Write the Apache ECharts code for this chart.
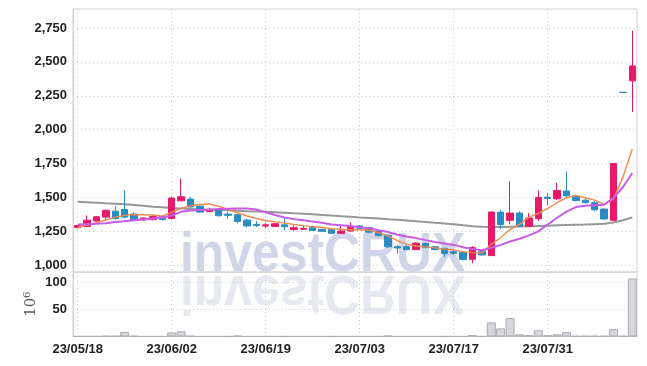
<!DOCTYPE html>
<html><head><meta charset="utf-8">
<script src="https://cdn.jsdelivr.net/npm/echarts@6/dist/echarts.min.js"></script>
<style>html,body{margin:0;padding:0;background:#fff}#c{width:647px;height:366px}</style>
</head><body><div id="c"></div>
<script>
const dates = ['23/05/18','23/05/19','23/05/22','23/05/23','23/05/24','23/05/25','23/05/26','23/05/30','23/05/31','23/06/01',
 '23/06/02','23/06/05','23/06/07','23/06/08','23/06/09','23/06/12','23/06/13','23/06/14','23/06/15','23/06/16',
 '23/06/19','23/06/20','23/06/21','23/06/22','23/06/23','23/06/26','23/06/27','23/06/28','23/06/29','23/06/30',
 '23/07/03','23/07/04','23/07/05','23/07/06','23/07/07','23/07/10','23/07/11','23/07/12','23/07/13','23/07/14',
 '23/07/17','23/07/18','23/07/19','23/07/20','23/07/21','23/07/24','23/07/25','23/07/26','23/07/27','23/07/28',
 '23/07/31','23/08/01','23/08/02','23/08/03','23/08/04','23/08/07','23/08/08','23/08/09','23/08/10','23/08/11'];
const opens  = [1278,1285,1326,1355,1399,1411,1378,1335,1336,1360, 1345,1475,1488,1436,1395,1412,1377,1372,1333,1301,
 1289,1286,1298,1262,1265,1277,1265,1262,1235,1252, 1290,1277,1252,1222,1137,1137,1115,1160,1136,1125,
 1100,1093,1044,1100,1071,1392,1331,1385,1287,1343, 1502,1490,1547,1505,1480,1461,1414,1331,2275,2360];
const closes = [1293,1332,1357,1405,1345,1355,1331,1348,1360,1338, 1495,1505,1430,1392,1412,1365,1368,1323,1290,1292,
 1298,1306,1284,1277,1272,1257,1250,1235,1252,1283, 1273,1243,1218,1136,1127,1115,1163,1130,1115,1086,
 1088,1043,1130,1076,1392,1299,1385,1287,1348,1500, 1493,1551,1512,1478,1461,1409,1341,1750,2275,2470];
const lows   = [1272,1280,1322,1338,1335,1345,1325,1330,1330,1330, 1338,1470,1425,1388,1390,1360,1345,1308,1280,1282,
 1275,1282,1257,1258,1262,1254,1246,1230,1232,1248, 1268,1236,1214,1128,1087,1110,1112,1125,1110,1060,
 1075,1040,1015,1072,1068,1265,1301,1283,1283,1326, 1444,1480,1505,1470,1455,1400,1336,1325,2275,2130];
const highs  = [1298,1368,1362,1410,1436,1552,1390,1352,1368,1365, 1505,1638,1502,1440,1425,1415,1395,1378,1345,1326,
 1311,1310,1355,1294,1289,1282,1268,1265,1293,1315, 1295,1282,1255,1225,1150,1155,1168,1168,1140,1128,
 1115,1096,1140,1104,1396,1407,1618,1398,1385,1551, 1532,1608,1691,1520,1492,1475,1422,1750,2275,2730];
const volumes = [0.5,0.5,0.5,1.2,1.2,8.5,1.2,0.3,0.3,0.3, 7.5,9.5,1.2,0.3,0.3,0.3,0.3,1.5,0.3,0.3,
 0.3,0.3,0.3,0.3,0.3,0.3,0.3,0.3,0.3,0.3, 0.3,0.3,0.3,1.5,0.3,0.3,0.3,0.3,0.3,0.3,
 0.3,0.3,2.5,0.5,26,15,34,4,2.5,11.5, 2.5,4,8,1,1,1,1,13.5,1,107];
const ma5  = [1280,1295,1313,1335,1355,1368,1373,1372,1370,1362, 1390,1420,1438,1448,1453,1435,1412,1387,1363,1345,
 1330,1320,1312,1300,1292,1285,1278,1270,1265,1262, 1262,1258,1240,1216,1182,1155,1142,1135,1128,1120,
 1113,1100,1093,1090,1154,1203,1265,1301,1355,1382, 1419,1461,1498,1515,1498,1480,1449,1488,1650,1855];
const ma10 = [1301,1303,1305,1310,1318,1324,1331,1337,1345,1352, 1367,1394,1404,1408,1410,1414,1416,1418,1418,1411,
 1390,1370,1352,1340,1331,1322,1314,1300,1295,1289, 1280,1272,1258,1245,1225,1212,1200,1185,1172,1160,
 1150,1132,1120,1110,1128,1150,1175,1195,1220,1250, 1300,1350,1395,1429,1439,1443,1446,1498,1575,1680];
const ma60 = [1468,1465,1461,1457,1454,1450,1444,1438,1432,1427, 1422,1418,1415,1412,1410,1408,1405,1402,1399,1397,
 1394,1391,1387,1383,1380,1376,1371,1366,1362,1357, 1352,1348,1344,1339,1335,1330,1325,1319,1313,1308,
 1302,1295,1288,1284,1282,1282,1284,1286,1288,1290, 1292,1294,1296,1298,1300,1303,1306,1315,1332,1352];
const priceTicks = [1000,1250,1500,1750,2000,2250,2500,2750];
const volumeName = '10\u2076';
const watermark = 'investCRUX';

const UP = '#e8196b', DOWN = '#2b8cc4';
const kdata = dates.map((d, i) => [opens[i], closes[i], lows[i], highs[i]]);
const labelFont = {fontFamily: '"Liberation Sans Narrow","Liberation Sans",sans-serif', fontWeight: 'bold', fontSize: 13, color: '#222'};
const dotted = {color: '#c3c8da', type: [1, 3], width: 1};
const chart = echarts.init(document.getElementById('c'));
chart.setOption({
  animation: false,
  grid: [
    {left: 73, right: 10, top: 9, height: 263, show: true, borderColor: '#d2d2d8', borderWidth: 1, backgroundColor: 'transparent'},
    {left: 73, right: 10, top: 272, height: 64.5, show: true, borderColor: '#d2d2d8', borderWidth: 1, backgroundColor: 'transparent'}
  ],
  graphic: [
    {type: 'text', x: 180, y: 284, z: -10, scaleX: 0.89,
     style: {text: watermark, font: 'bold 56px "Liberation Sans", sans-serif', fill: '#d0d6e7', textVerticalAlign: 'bottom'}},
    {type: 'text', x: 180, y: 263, z: -10, scaleX: 0.89, scaleY: -1,
     style: {text: watermark, font: 'bold 56px "Liberation Sans", sans-serif', fill: '#e7e9f1', textVerticalAlign: 'bottom'}}
  ],
  xAxis: [
    {type: 'category', gridIndex: 0, data: dates, boundaryGap: true,
     axisLine: {show: false}, axisTick: {show: false, alignWithLabel: true, interval: 9}, axisLabel: {show: false, interval: 9},
     splitLine: {show: true, interval: 9, alignWithLabel: true, lineStyle: dotted}},
    {type: 'category', gridIndex: 1, data: dates, boundaryGap: true,
     axisLine: {show: true, lineStyle: {color: '#c4c4ca'}}, axisTick: {show: false, alignWithLabel: true, interval: 9},
     axisLabel: Object.assign({interval: 9, margin: 6}, labelFont),
     splitLine: {show: true, interval: 9, alignWithLabel: true, lineStyle: dotted}}
  ],
  yAxis: [
    {type: 'value', gridIndex: 0, min: 950, max: 2890,
     axisLine: {show: true, lineStyle: {color: '#d2d2d8'}},
     axisTick: {show: false, customValues: priceTicks},
     axisLabel: Object.assign({customValues: priceTicks, margin: 6, formatter: v => Number(v).toLocaleString('en-US')}, labelFont),
     splitLine: {show: true, lineStyle: dotted}},
    {type: 'value', gridIndex: 1, min: 0, max: 119, interval: 50,
     axisLine: {show: true, lineStyle: {color: '#d2d2d8'}}, axisTick: {show: false},
     axisLabel: Object.assign({showMinLabel: false, showMaxLabel: false, margin: 6}, labelFont),
     splitLine: {show: true, lineStyle: dotted},
     name: volumeName, nameLocation: 'middle', nameRotate: 90, nameGap: 34, nameMoveOverlap: false,
     nameTextStyle: {fontFamily: '"DejaVu Serif", serif', fontSize: 15, color: '#555'}}
  ],
  series: [
    {type: 'bar', xAxisIndex: 1, yAxisIndex: 1, data: volumes, barCategoryGap: '4%',
     itemStyle: {color: '#d6d6db', borderColor: '#ababb3', borderWidth: 1}},
    {type: 'line', xAxisIndex: 0, yAxisIndex: 0, data: ma60, symbol: 'none', z: 1,
     lineStyle: {color: '#858585', width: 2, opacity: 0.85}},
    {type: 'candlestick', xAxisIndex: 0, yAxisIndex: 0, data: kdata, barWidth: 7,
     itemStyle: {color: UP, color0: DOWN, borderColor: UP, borderColor0: DOWN, borderColorDoji: DOWN, borderWidth: 1}},
    {type: 'line', xAxisIndex: 0, yAxisIndex: 0, data: ma5, symbol: 'none',
     lineStyle: {color: '#f0894c', width: 1.4}},
    {type: 'line', xAxisIndex: 0, yAxisIndex: 0, data: ma10, symbol: 'none',
     lineStyle: {color: '#c95be6', width: 2}}
  ]
});
</script></body></html>
